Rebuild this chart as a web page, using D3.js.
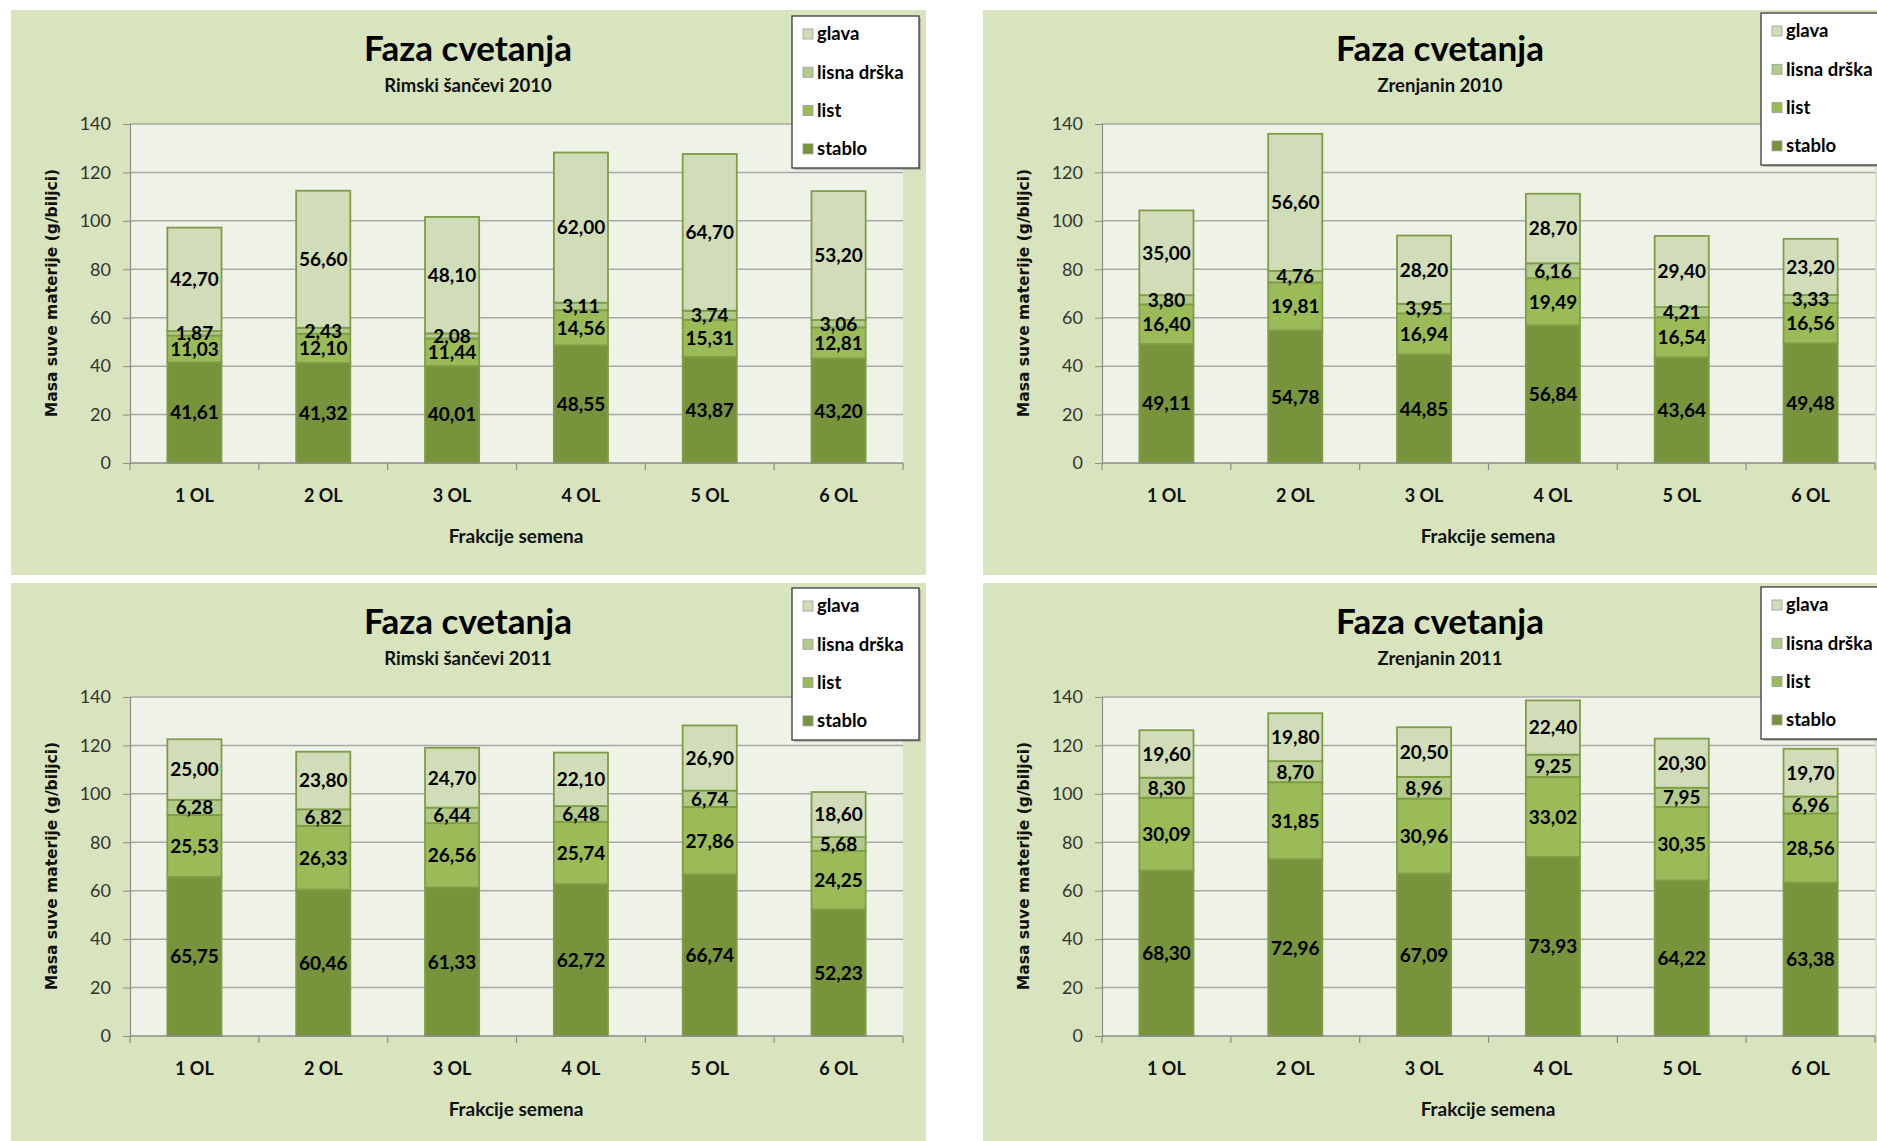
<!DOCTYPE html>
<html><head><meta charset="utf-8">
<script src="https://cdn.jsdelivr.net/npm/d3@7"></script>
<style>body{margin:0;background:#fff;} svg{display:block}</style>
</head><body><svg id="c" width="1877" height="1141"></svg>
<script>
// ---- data ----
const categories = ["1 OL", "2 OL", "3 OL", "4 OL", "5 OL", "6 OL"];
const seriesNames = ["stablo", "list", "lisna drška", "glava"];
const legendOrder = ["glava", "lisna drška", "list", "stablo"];
const yTicks = [0, 20, 40, 60, 80, 100, 120, 140];
const chartTitle = "Faza cvetanja";
const xTitle = "Frakcije semena";
const yTitle = "Masa suve materije (g/biljci)";

const rs2010_stablo = [41.61, 41.32, 40.01, 48.55, 43.87, 43.20];
const rs2010_list   = [11.03, 12.10, 11.44, 14.56, 15.31, 12.81];
const rs2010_lisna  = [1.87, 2.43, 2.08, 3.11, 3.74, 3.06];
const rs2010_glava  = [42.70, 56.60, 48.10, 62.00, 64.70, 53.20];

const zr2010_stablo = [49.11, 54.78, 44.85, 56.84, 43.64, 49.48];
const zr2010_list   = [16.40, 19.81, 16.94, 19.49, 16.54, 16.56];
const zr2010_lisna  = [3.80, 4.76, 3.95, 6.16, 4.21, 3.33];
const zr2010_glava  = [35.00, 56.60, 28.20, 28.70, 29.40, 23.20];

const rs2011_stablo = [65.75, 60.46, 61.33, 62.72, 66.74, 52.23];
const rs2011_list   = [25.53, 26.33, 26.56, 25.74, 27.86, 24.25];
const rs2011_lisna  = [6.28, 6.82, 6.44, 6.48, 6.74, 5.68];
const rs2011_glava  = [25.00, 23.80, 24.70, 22.10, 26.90, 18.60];

const zr2011_stablo = [68.30, 72.96, 67.09, 73.93, 64.22, 63.38];
const zr2011_list   = [30.09, 31.85, 30.96, 33.02, 30.35, 28.56];
const zr2011_lisna  = [8.30, 8.70, 8.96, 9.25, 7.95, 6.96];
const zr2011_glava  = [19.60, 19.80, 20.50, 22.40, 20.30, 19.70];

// ---- styles ----
const colors = {"stablo": "#77933c", "list": "#9bbb59", "lisna drška": "#b3ca8a", "glava": "#d1ddb9"};
const FONT = "Lato, 'Open Sans', sans-serif";

const panels = [
  {sub: "Rimski šančevi 2010", ox: 0,   oy: 0,   lx: 792,  ly: 16,  s: [rs2010_stablo, rs2010_list, rs2010_lisna, rs2010_glava]},
  {sub: "Zrenjanin 2010",      ox: 972, oy: 0,   lx: 1761, ly: 13,  s: [zr2010_stablo, zr2010_list, zr2010_lisna, zr2010_glava]},
  {sub: "Rimski šančevi 2011", ox: 0,   oy: 573, lx: 792,  ly: 588, s: [rs2011_stablo, rs2011_list, rs2011_lisna, rs2011_glava]},
  {sub: "Zrenjanin 2011",      ox: 972, oy: 573, lx: 1761, ly: 587, s: [zr2011_stablo, zr2011_list, zr2011_lisna, zr2011_glava]}
];

const svg = d3.select("#c");
const fmt = v => d3.format(".2f")(v).replace(".", ",");

function drawPanel(p) {
  const root = svg.append("g");
  const g = root.append("g").attr("transform", `translate(${p.ox},${p.oy})`);
  g.append("rect").attr("x", 11).attr("y", 10).attr("width", 915).attr("height", 565).attr("fill", "#d7e4bd");

  const x = d3.scaleBand().domain(categories).range([130, 903]).paddingInner(0.58).paddingOuter(0.29);
  const y = d3.scaleLinear().domain([0, 140]).range([463, 124]);

  g.append("rect").attr("x", 130).attr("y", 124).attr("width", 773).attr("height", 339).attr("fill", "#eef2e7");

  // gridlines
  g.append("g").selectAll("line").data(yTicks.filter(t => t > 0)).join("line")
    .attr("x1", 130).attr("x2", 903).attr("y1", d => y(d)).attr("y2", d => y(d))
    .attr("stroke", "#a9a9a9").attr("stroke-width", 1.5);

  // y axis
  const ya = g.append("g").attr("transform", "translate(130,0)")
    .call(d3.axisLeft(y).tickValues(yTicks).tickSize(7).tickPadding(12).tickFormat(d3.format("d")));
  ya.select(".domain").attr("stroke", "#8c8c8c").attr("stroke-width", 1.2);
  ya.selectAll(".tick line").attr("stroke", "#8c8c8c");
  ya.selectAll("text").attr("font-family", FONT).attr("font-size", 18).attr("fill", "#333");

  // stacked bars
  const rows = categories.map((c, i) => {
    const r = {cat: c};
    seriesNames.forEach((k, j) => r[k] = p.s[j][i]);
    return r;
  });
  const stack = d3.stack().keys(seriesNames)(rows);
  const layers = g.append("g").selectAll("g").data(stack).join("g").attr("fill", d => colors[d.key]);
  layers.selectAll("rect").data(d => d).join("rect")
    .attr("x", d => x(d.data.cat)).attr("width", x.bandwidth())
    .attr("y", d => y(d[1])).attr("height", d => y(d[0]) - y(d[1]))
    .attr("stroke", "#7e9d45").attr("stroke-width", 1.8);

  // x axis
  const xa = g.append("g").attr("transform", "translate(0,463)")
    .call(d3.axisBottom(x).tickSize(0).tickPadding(0));
  xa.select(".domain").remove();
  xa.selectAll("text").attr("font-family", FONT).attr("font-weight", "bold").attr("font-size", 18).attr("fill", "#111")
    .attr("y", 33).attr("dy", "0.35em");
  g.append("line").attr("x1", 130).attr("x2", 903).attr("y1", 463).attr("y2", 463)
    .attr("stroke", "#8c8c8c").attr("stroke-width", 1.5);
  const bounds = [x.range()[0]].concat(categories.map(c => x(c) - x.step() * x.paddingInner() / 2 + x.step()));
  g.append("g").selectAll("line").data(bounds).join("line")
    .attr("x1", d => d).attr("x2", d => d).attr("y1", 463).attr("y2", 470)
    .attr("stroke", "#8c8c8c").attr("stroke-width", 1.2);

  // data labels
  const lab = g.append("g");
  stack.forEach(layer => {
    lab.selectAll(null).data(layer).join("text")
      .attr("x", d => x(d.data.cat) + x.bandwidth() / 2)
      .attr("y", d => y((d[0] + d[1]) / 2))
      .attr("dy", "0.36em")
      .attr("text-anchor", "middle")
      .attr("font-family", FONT).attr("font-weight", "bold").attr("font-size", 19).attr("fill", "#000")
      .text(d => fmt(d[1] - d[0]));
  });

  // titles
  g.append("text").attr("x", 468).attr("y", 61).attr("text-anchor", "middle")
    .attr("font-family", FONT).attr("font-weight", "bold").attr("font-size", 35).text(chartTitle);
  g.append("text").attr("x", 468).attr("y", 92).attr("text-anchor", "middle")
    .attr("font-family", FONT).attr("font-weight", "bold").attr("font-size", 18.5).attr("fill", "#111").text(p.sub);
  g.append("text").attr("x", 516).attr("y", 543).attr("text-anchor", "middle")
    .attr("font-family", FONT).attr("font-weight", "bold").attr("font-size", 19).attr("fill", "#111").text(xTitle);
  g.append("text").attr("transform", "translate(52,293) rotate(-90)").attr("text-anchor", "middle")
    .attr("dy", "0.35em").attr("font-family", "'DejaVu Sans', sans-serif").attr("font-weight", "bold")
    .attr("font-size", 15.5).attr("fill", "#111").text(yTitle);

  // legend (absolute coords)
  const lg = root.append("g").attr("transform", `translate(${p.lx},${p.ly})`);
  lg.append("rect").attr("x", 2).attr("y", 2).attr("width", 127).attr("height", 152).attr("fill", "#8a8a8a").attr("opacity", 0.5);
  lg.append("rect").attr("width", 127).attr("height", 152).attr("fill", "#fff").attr("stroke", "#3a3a3a").attr("stroke-width", 1.3);
  const items = lg.selectAll("g").data(legendOrder).join("g")
    .attr("transform", (d, i) => `translate(11,${18 + i * 38.3})`);
  items.append("rect").attr("x", 0).attr("y", -5).attr("width", 10).attr("height", 10)
    .attr("fill", d => colors[d]).attr("stroke", "#9a9a9a").attr("stroke-width", 0.8);
  items.append("text").attr("x", 14).attr("dy", "0.35em").attr("font-family", FONT).attr("font-weight", "bold")
    .attr("font-size", 18.5).attr("fill", "#000").text(d => d);
}

panels.forEach(drawPanel);
</script></body></html>
